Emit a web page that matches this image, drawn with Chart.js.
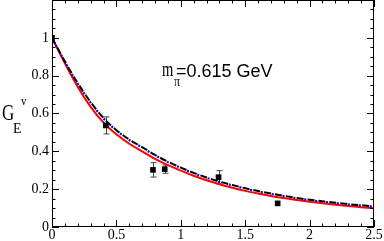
<!DOCTYPE html>
<html>
<head>
<meta charset="utf-8">
<script src="https://cdn.jsdelivr.net/npm/chart.js@4/dist/chart.umd.min.js"></script>
<style>
html,body{margin:0;padding:0;background:#fff;}
#wrap{width:384px;height:241px;position:relative;}
</style>
</head>
<body>
<div id="wrap"><canvas id="c" width="384" height="241"></canvas></div>
<script>
// ---- data ----
const curveQ2 = [0,0.1,0.2,0.3,0.4,0.5,0.6,0.7,0.8,0.9,1.0,1.1,1.2,1.3,1.4,1.5,1.6,1.7,1.8,1.9,2.0,2.1,2.2,2.3,2.4,2.5];
const redSolid = [1,0.865,0.74,0.635,0.552,0.49,0.44,0.4,0.36,0.327,0.298,0.271,0.247,0.226,0.207,0.191,0.177,0.164,0.153,0.143,0.134,0.126,0.118,0.111,0.105,0.099];
const blackDashed = [1,0.875,0.76,0.66,0.576,0.512,0.462,0.422,0.381,0.345,0.314,0.286,0.262,0.24,0.222,0.205,0.19,0.177,0.165,0.154,0.144,0.136,0.128,0.121,0.115,0.109];
const blueDotted = [1,0.873,0.758,0.658,0.574,0.51,0.46,0.42,0.379,0.343,0.312,0.284,0.26,0.238,0.22,0.203,0.188,0.175,0.163,0.152,0.142,0.134,0.126,0.119,0.113,0.107];
const latticeQ2 = [0,0.418,0.784,0.875,1.293,1.752];
const latticeG = [1.0,0.537,0.302,0.306,0.263,0.125];
const latticeErr = [0,0.045,0.038,0.022,0.035,0];
const xTicks = [0,0.5,1,1.5,2,2.5];
const yTicks = [0,0.2,0.4,0.6,0.8,1];

const toPts = (xs, ys) => xs.map((x,i)=>({x:x, y:ys[i]}));

const serif = "'Liberation Serif', 'Times New Roman', Times, serif";
const sans = "'Liberation Sans', Arial, Helvetica, sans-serif";
Chart.defaults.font.family = serif;

function textAt(ctx, txt, font, x, y, sx, sy){
  ctx.save();
  ctx.translate(x,y);
  ctx.scale(sx,sy);
  ctx.font = font;
  ctx.fillText(txt,0,0);
  ctx.restore();
}

const tickPlugin = {
  id:'ticksAndDecor',
  beforeDatasetsDraw(chart){
    const ctx = chart.ctx, xs = chart.scales.x, ys = chart.scales.y;
    ctx.save();
    ctx.strokeStyle = '#444';
    ctx.lineWidth = 1;
    latticeQ2.forEach((q,i)=>{
      const e = latticeErr[i];
      if(!e) return;
      const px = Math.round(xs.getPixelForValue(q))+0.5;
      const y1 = ys.getPixelForValue(latticeG[i]-e);
      const y2 = ys.getPixelForValue(latticeG[i]+e);
      ctx.beginPath();
      ctx.moveTo(px,y1); ctx.lineTo(px,y2);
      ctx.moveTo(px-3,y1); ctx.lineTo(px+3,y1);
      ctx.moveTo(px-3,y2); ctx.lineTo(px+3,y2);
      ctx.stroke();
    });
    ctx.restore();
  },
  afterDraw(chart){
    const ctx = chart.ctx, xs = chart.scales.x, ys = chart.scales.y;
    const a = chart.chartArea;
    ctx.save();
    ctx.strokeStyle = '#000';
    ctx.lineWidth = 1;
    ctx.beginPath();
    for(let i=0;i<=25;i++){
      const v = i*0.1;
      const px = Math.round(xs.getPixelForValue(v))+0.5;
      const len = (i%5===0)?7:3.5;
      ctx.moveTo(px,a.bottom); ctx.lineTo(px,a.bottom-len);
      ctx.moveTo(px,a.top); ctx.lineTo(px,a.top+len);
    }
    for(let i=0;i<=24;i++){
      const v = i*0.05;
      const py = Math.round(ys.getPixelForValue(v))+0.5;
      const len = (i%4===0)?7:3.5;
      ctx.moveTo(a.left,py); ctx.lineTo(a.left+len,py);
      ctx.moveTo(a.right,py); ctx.lineTo(a.right-len,py);
    }
    ctx.stroke();
    ctx.strokeRect(a.left+0.5,a.top+0.5,a.right-a.left-1,a.bottom-a.top-1);

    ctx.fillStyle = '#000';
    ctx.textBaseline = 'alphabetic';
    // axis title G_E^v
    textAt(ctx,'G','17px '+serif,2,120,1,1.3);
    textAt(ctx,'E','14px '+serif,13,133,1,1.08);
    textAt(ctx,'v','11px '+serif,21,105,1,1.1);

    // annotation m_pi=0.615 GeV
    textAt(ctx,'m','15px '+serif,162,76,0.97,1.35);
    textAt(ctx,'\u03c0','12px '+serif,174,86,1,1.2);
    textAt(ctx,'=0.615 GeV','18px '+sans,176,77,1,1);
    ctx.restore();
  }
};

new Chart(document.getElementById('c'),{
  type:'scatter',
  data:{
    datasets:[
      {label:'lattice', data:toPts(latticeQ2,latticeG), pointStyle:'rect', pointRadius:4, pointHoverRadius:4,
       backgroundColor:'#000', borderColor:'#000', borderWidth:0, showLine:false},
      {label:'dashed', data:toPts(curveQ2,blackDashed), showLine:true, pointRadius:0, borderColor:'#000',
       borderWidth:2, borderDash:[7,4], cubicInterpolationMode:'monotone', fill:false},
      {label:'dotted', data:toPts(curveQ2,blueDotted), showLine:true, pointRadius:0, borderColor:'#0000ff',
       borderWidth:2.2, borderDash:[2,9], borderDashOffset:-8, cubicInterpolationMode:'monotone', fill:false},
      {label:'solid', data:toPts(curveQ2,redSolid), showLine:true, pointRadius:0, borderColor:'#ff0000',
       borderWidth:2, cubicInterpolationMode:'monotone', fill:false}
    ]
  },
  options:{
    responsive:false,
    animation:false,
    events:[],
    layout:{autoPadding:false,padding:{top:0,right:10,left:0,bottom:0}},
    plugins:{legend:{display:false},tooltip:{enabled:false}},
    scales:{
      x:{type:'linear',min:0,max:2.5,
         afterBuildTicks(s){s.ticks = xTicks.map(v=>({value:v}));},
         afterFit(s){s.height=14;s.paddingLeft=0;s.paddingRight=0;s.paddingTop=0;s.paddingBottom=0;},
         ticks:{padding:0,color:'#000',font:{family:serif,size:14},maxRotation:0,autoSkip:false,
                callback:v=>String(v)},
         grid:{display:false,drawTicks:false},
         border:{display:false}},
      y:{type:'linear',min:0,max:1.2,
         afterBuildTicks(s){s.ticks = yTicks.map(v=>({value:v}));},
         afterFit(s){s.width=52;s.paddingTop=0;s.paddingBottom=0;s.paddingLeft=0;s.paddingRight=0;},
         ticks:{padding:3,color:'#000',font:{family:serif,size:14},autoSkip:false,
                callback:v=>String(v)},
         grid:{display:false,drawTicks:false},
         border:{display:false}}
    }
  },
  plugins:[tickPlugin]
});
</script>
</body>
</html>
